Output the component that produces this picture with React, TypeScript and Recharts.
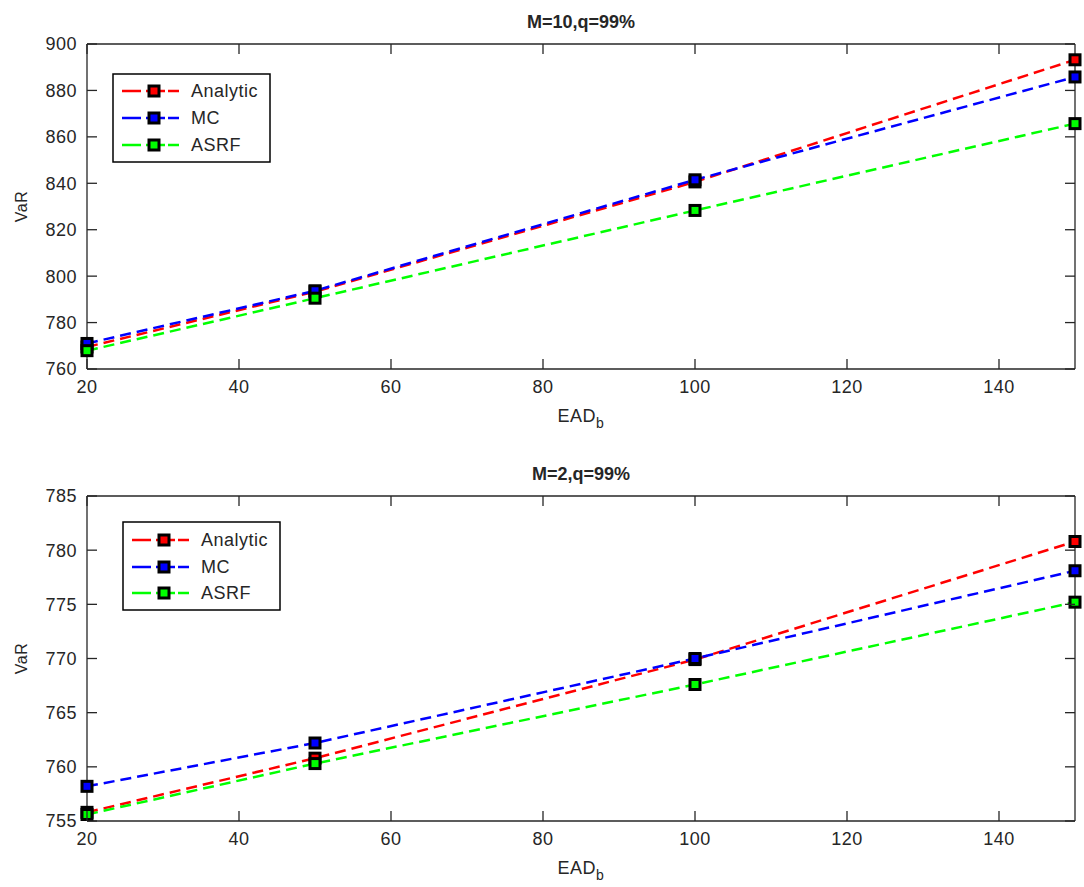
import { LineChart, Line, XAxis, YAxis, ReferenceLine } from 'recharts';

const xValues = [20, 50, 100, 150];
const xTicks = [20, 40, 60, 80, 100, 120, 140];

// M=10
const topAnalytic = [769.5, 793.3, 840.6, 893.2];
const topMC = [771.0, 793.7, 841.5, 885.8];
const topASRF = [767.9, 790.5, 828.3, 865.7];
const topTicks = [760, 780, 800, 820, 840, 860, 880, 900];

// M=2
const botAnalytic = [755.8, 760.8, 769.9, 780.8];
const botMC = [758.2, 762.2, 770.0, 778.1];
const botASRF = [755.6, 760.3, 767.6, 775.2];
const botTicks = [755, 760, 765, 770, 775, 780, 785];

const seriesNames = ['Analytic', 'MC', 'ASRF'];
const seriesColors = ['#ff0000', '#0000ff', '#00ff00'];

const FONT = '"Liberation Sans", Arial, sans-serif';
const INK = '#262626';
const PLOT_W = 988;
const PLOT_H = 325;
const LEFT = 87;

const buildData = (a: number[], m: number[], s: number[]) =>
  xValues.map((x, i) => ({ x, Analytic: a[i], MC: m[i], ASRF: s[i] }));

const squareDot = (color: string) => (props: any) => {
  const { cx, cy, key } = props;
  return (
    <rect
      key={key}
      x={cx - 5}
      y={cy - 5}
      width={10}
      height={10}
      fill={color}
      stroke="#000"
      strokeWidth={3}
    />
  );
};

// matlab style: ticks point inwards, on both sides of the box
const XTick = (props: any) => {
  const { x, y, payload } = props;
  const top = y - PLOT_H;
  return (
    <g>
      <line x1={x} x2={x} y1={y} y2={y - 10} stroke={INK} strokeWidth={1.3} />
      <line x1={x} x2={x} y1={top} y2={top + 10} stroke={INK} strokeWidth={1.3} />
      <text
        x={x}
        y={y + 11}
        dy="0.72em"
        textAnchor="middle"
        fontSize={18}
        letterSpacing={0.5}
        fontFamily={FONT}
        fill={INK}
      >
        {payload.value}
      </text>
    </g>
  );
};

const YTick = (props: any) => {
  const { x, y, payload } = props;
  const right = x + PLOT_W;
  return (
    <g>
      <line x1={x} x2={x + 10} y1={y} y2={y} stroke={INK} strokeWidth={1.3} />
      <line x1={right} x2={right - 10} y1={y} y2={y} stroke={INK} strokeWidth={1.3} />
      <text
        x={x - 10}
        y={y}
        dy="0.36em"
        textAnchor="end"
        fontSize={18}
        letterSpacing={0.5}
        fontFamily={FONT}
        fill={INK}
      >
        {payload.value}
      </text>
    </g>
  );
};

function LegendBox({ rowYs }: { rowYs: number[] }) {
  return (
    <svg width={160} height={92} style={{ display: 'block' }}>
      <rect x={1} y={1} width={157} height={88} fill="#fff" stroke="#000" strokeWidth={1.5} />
      {seriesNames.map((name, i) => (
        <g key={name}>
          <line
            x1={10}
            x2={72}
            y1={rowYs[i]}
            y2={rowYs[i]}
            stroke={seriesColors[i]}
            strokeWidth={2.5}
            strokeDasharray="19 5 8 3 8 3 11"
          />
          <rect
            x={37}
            y={rowYs[i] - 5}
            width={10}
            height={10}
            fill={seriesColors[i]}
            stroke="#000"
            strokeWidth={3}
          />
          <text
            x={79}
            y={rowYs[i] + 6}
            fontSize={18}
            letterSpacing={0.5}
            fontFamily={FONT}
            fill={INK}
          >
            {name}
          </text>
        </g>
      ))}
    </svg>
  );
}

type PanelProps = {
  title: string;
  data: { x: number; Analytic: number; MC: number; ASRF: number }[];
  domain: [number, number];
  yTicks: number[];
  height: number;
  marginTop: number;
  axisHeight: number;
  legendLeft: number;
  legendTop: number;
  rowYs: number[];
};

function Panel({
  title,
  data,
  domain,
  yTicks,
  height,
  marginTop,
  axisHeight,
  legendLeft,
  legendTop,
  rowYs,
}: PanelProps) {
  return (
    <div style={{ position: 'relative', width: 1084, height }}>
      <LineChart
        width={1084}
        height={height}
        data={data}
        margin={{ top: marginTop, right: 1084 - LEFT - PLOT_W, left: 0, bottom: 0 }}
      >
        <XAxis
          dataKey="x"
          type="number"
          domain={[20, 150]}
          ticks={xTicks}
          height={axisHeight}
          tickSize={0}
          tickMargin={0}
          tickLine={false}
          tick={XTick}
          stroke={INK}
          strokeWidth={1.3}
          label={(p: any) => {
            const vb = p.viewBox;
            return (
              <text
                x={vb.x + vb.width / 2}
                y={vb.y + 53}
                textAnchor="middle"
                fontSize={18}
                letterSpacing={0.5}
                fontFamily={FONT}
                fill={INK}
              >
                EAD
                <tspan dy={6} fontSize={14}>b</tspan>
              </text>
            );
          }}
        />
        <YAxis
          type="number"
          domain={domain}
          ticks={yTicks}
          width={LEFT}
          tickSize={0}
          tickMargin={0}
          tickLine={false}
          tick={YTick}
          stroke={INK}
          strokeWidth={1.3}
          label={(p: any) => {
            const vb = p.viewBox;
            const cy = vb.y + vb.height / 2;
            return (
              <g>
                <text
                  x={27}
                  y={cy}
                  transform={`rotate(-90 27 ${cy})`}
                  textAnchor="middle"
                  fontSize={16}
                  letterSpacing={0.5}
                  fontFamily={FONT}
                  fill={INK}
                >
                  VaR
                </text>
                <text
                  x={LEFT + PLOT_W / 2}
                  y={vb.y - 16}
                  textAnchor="middle"
                  fontSize={18}
                  fontWeight="bold"
                  fontFamily={FONT}
                  fill={INK}
                >
                  {title}
                </text>
              </g>
            );
          }}
        />
        <ReferenceLine y={domain[1]} stroke={INK} strokeWidth={1.3} />
        <ReferenceLine x={150} stroke={INK} strokeWidth={1.3} />
        {seriesNames.map((name, i) => (
          <Line
            key={name}
            type="linear"
            dataKey={name}
            stroke={seriesColors[i]}
            strokeWidth={2.5}
            strokeDasharray="11 6"
            dot={squareDot(seriesColors[i])}
            activeDot={false}
            isAnimationActive={false}
          />
        ))}
      </LineChart>
      <div style={{ position: 'absolute', left: legendLeft, top: legendTop }}>
        <LegendBox rowYs={rowYs} />
      </div>
    </div>
  );
}

export default function App() {
  return (
    <div
      style={{
        position: 'absolute',
        left: 0,
        top: 0,
        width: 1084,
        height: 887,
        background: '#fff',
      }}
    >
      <Panel
        title="M=10,q=99%"
        data={buildData(topAnalytic, topMC, topASRF)}
        domain={[760, 900]}
        yTicks={topTicks}
        height={440}
        marginTop={44}
        axisHeight={71}
        legendLeft={112}
        legendTop={73}
        rowYs={[18, 45, 72]}
      />
      <Panel
        title="M=2,q=99%"
        data={buildData(botAnalytic, botMC, botASRF)}
        domain={[755, 785]}
        yTicks={botTicks}
        height={447}
        marginTop={56}
        axisHeight={66}
        legendLeft={122}
        legendTop={81}
        rowYs={[19, 46, 72]}
      />
    </div>
  );
}
